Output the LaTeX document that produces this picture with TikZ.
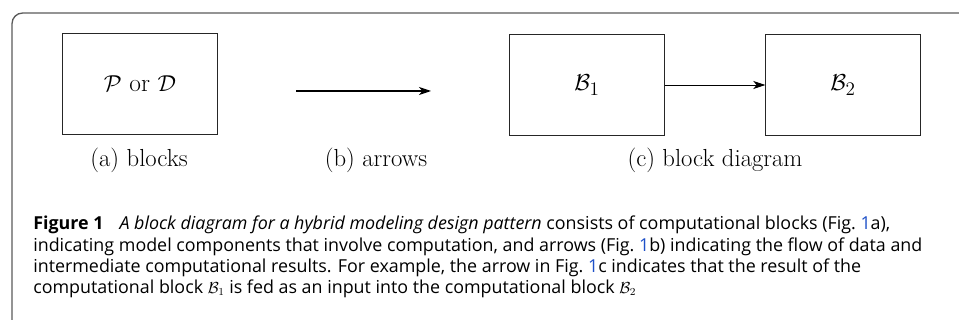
\documentclass[tikz,border=0pt]{standalone}
\usepackage{fontspec}
\usetikzlibrary{arrows.meta,positioning}
\newfontfamily\capfont{Open Sans}
\definecolor{linkblue}{RGB}{30,80,200}
\definecolor{framegray}{RGB}{90,90,90}
\newcommand{\capB}[1]{{\fontsize{12}{14}\selectfont$\mathcal{B}_{#1}$}}
\tikzset{
  blockbox/.style={draw=black!85, line width=0.6pt, minimum width=116pt, minimum height=76pt, font=\fontsize{19}{22}\selectfont},
  sublabel/.style={anchor=base, font=\fontsize{18.5}{22}\selectfont},
  flow/.style={-{Stealth[length=9pt,width=6pt,inset=2.5pt]}, line width=0.8pt},
  captext/.style={anchor=north west, inner sep=0pt, align=left, font=\capfont\fontsize{13.4}{15.8}\selectfont}
}
\begin{document}
\begin{tikzpicture}[x=0.75pt, y=-0.75pt]
\useasboundingbox (0,0) rectangle (959,320);
\draw [framegray, line width=1pt, rounded corners=8pt] (12,322) -- (12,13) -- (962,13);
\node [blockbox] (pord) at (140,84) {$\mathcal{P}$ or $\mathcal{D}$};
\coordinate (arrowstart) at (296,91);
\coordinate (arrowend) at (431,91);
\draw [flow] (arrowstart) -- (arrowend);
\node [blockbox] (b1) at (587,85) {$\mathcal{B}_1$};
\node [blockbox] (b2) at (843,85) {$\mathcal{B}_2$};
\draw [flow, line width=0.6pt] (b1) -- (b2);
\node [sublabel] (laba) at (139,167) {(a) blocks};
\node [sublabel] (labb) at (376,167) {(b) arrows};
\node [sublabel] (labc) at (715,167) {(c) block diagram};
\node [captext] (caption) at (33,216) {\textbf{Figure 1}\hspace{0.9em}\textit{A block diagram for a hybrid modeling design pattern} consists of computational blocks (Fig.~{\color{linkblue}1}a),\\
  indicating model components that involve computation, and arrows (Fig.~{\color{linkblue}1}b) indicating the flow of data and\\
  intermediate computational results. For example, the arrow in Fig.~{\color{linkblue}1}c indicates that the result of the\\
  computational block \capB{1} is fed as an input into the computational block \capB{2}};
\end{tikzpicture}
\end{document}
